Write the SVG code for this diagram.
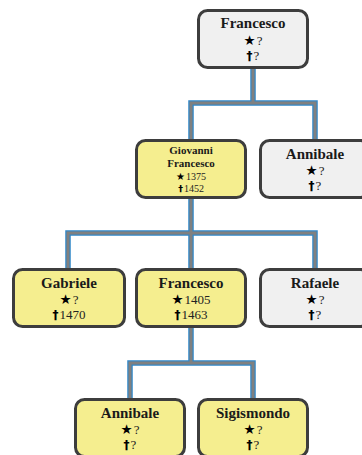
<svg xmlns="http://www.w3.org/2000/svg" width="362" height="455" viewBox="0 0 362 455">
<style>
.box{stroke:#3d3d3d;stroke-width:3}
.y{fill:#f5ee8f}
.g{fill:#f0f0f0}
.cb{fill:none;stroke:#2f86c8;stroke-width:5.5}
.cg{fill:none;stroke:#808080;stroke-width:3}
text{text-anchor:middle;fill:#1a1a1a}
.n{font-family:"Liberation Serif","DejaVu Serif",serif;font-weight:bold;font-size:15px}
.ns{font-family:"Liberation Serif","DejaVu Serif",serif;font-weight:bold;font-size:11px}
.d{font-family:"Liberation Serif","DejaVu Serif",serif;font-size:13px;fill:#222}
.ds{font-family:"Liberation Serif","DejaVu Serif",serif;font-size:10px;fill:#222}
.s{font-family:"DejaVu Sans",sans-serif;font-weight:bold;fill:#000}
.st{font-size:13.5px}
.dg{font-size:12px}
.sts{font-size:10px}
.dgs{font-size:9.5px}
</style>
<rect width="362" height="455" fill="#ffffff"/>
<g id="connectors">
<path class="cb" d="M191,139V103H315V139M253,69V103M68,268V233H315V268M191,198V268M130,398V363H253V398M191,327V363"/>
<path class="cg" d="M191,139V103H315V139M253,69V103M68,268V233H315V268M191,198V268M130,398V363H253V398M191,327V363"/>
</g>
<g id="n_francesco_top">
<rect class="box g" x="198.5" y="10.5" width="109" height="57" rx="9"/>
<text class="n" x="253" y="28">Francesco</text>
<text x="253" y="44.5"><tspan class="s st">★</tspan><tspan class="d" dx="1">?</tspan></text>
<text x="253" y="59.5"><tspan class="s dg">†</tspan><tspan class="d" dx="1">?</tspan></text>
</g>
<g id="n_giovanni">
<rect class="box y" x="136.5" y="140.5" width="109" height="57" rx="9"/>
<text class="ns" x="191" y="153.5">Giovanni</text>
<text class="ns" x="191" y="166.5">Francesco</text>
<text x="191" y="179.5"><tspan class="s sts">★</tspan><tspan class="ds" dx="1">1375</tspan></text>
<text x="191" y="191.5"><tspan class="s dgs">†</tspan><tspan class="ds" dx="1">1452</tspan></text>
</g>
<g id="n_annibale1">
<rect class="box g" x="260.5" y="140.5" width="109" height="57" rx="9"/>
<text class="n" x="315" y="159">Annibale</text>
<text x="315" y="174.5"><tspan class="s st">★</tspan><tspan class="d" dx="1">?</tspan></text>
<text x="315" y="189.5"><tspan class="s dg">†</tspan><tspan class="d" dx="1">?</tspan></text>
</g>
<g id="n_gabriele">
<rect class="box y" x="13.5" y="269.5" width="111" height="57" rx="9"/>
<text class="n" x="69" y="288">Gabriele</text>
<text x="69" y="303.5"><tspan class="s st">★</tspan><tspan class="d" dx="1">?</tspan></text>
<text x="69" y="318.5"><tspan class="s dg">†</tspan><tspan class="d" dx="1">1470</tspan></text>
</g>
<g id="n_francesco2">
<rect class="box y" x="136.5" y="269.5" width="109" height="57" rx="9"/>
<text class="n" x="191" y="288">Francesco</text>
<text x="191" y="303.5"><tspan class="s st">★</tspan><tspan class="d" dx="1">1405</tspan></text>
<text x="191" y="318.5"><tspan class="s dg">†</tspan><tspan class="d" dx="1">1463</tspan></text>
</g>
<g id="n_rafaele">
<rect class="box g" x="260.5" y="269.5" width="109" height="57" rx="9"/>
<text class="n" x="315" y="288">Rafaele</text>
<text x="315" y="303.5"><tspan class="s st">★</tspan><tspan class="d" dx="1">?</tspan></text>
<text x="315" y="318.5"><tspan class="s dg">†</tspan><tspan class="d" dx="1">?</tspan></text>
</g>
<g id="n_annibale2">
<rect class="box y" x="75.5" y="399.5" width="109" height="57" rx="9"/>
<text class="n" x="130" y="418">Annibale</text>
<text x="130" y="433.5"><tspan class="s st">★</tspan><tspan class="d" dx="1">?</tspan></text>
<text x="130" y="448.5"><tspan class="s dg">†</tspan><tspan class="d" dx="1">?</tspan></text>
</g>
<g id="n_sigismondo">
<rect class="box y" x="198.5" y="399.5" width="109" height="57" rx="9"/>
<text class="n" x="253" y="418">Sigismondo</text>
<text x="253" y="433.5"><tspan class="s st">★</tspan><tspan class="d" dx="1">?</tspan></text>
<text x="253" y="448.5"><tspan class="s dg">†</tspan><tspan class="d" dx="1">?</tspan></text>
</g>
</svg>
